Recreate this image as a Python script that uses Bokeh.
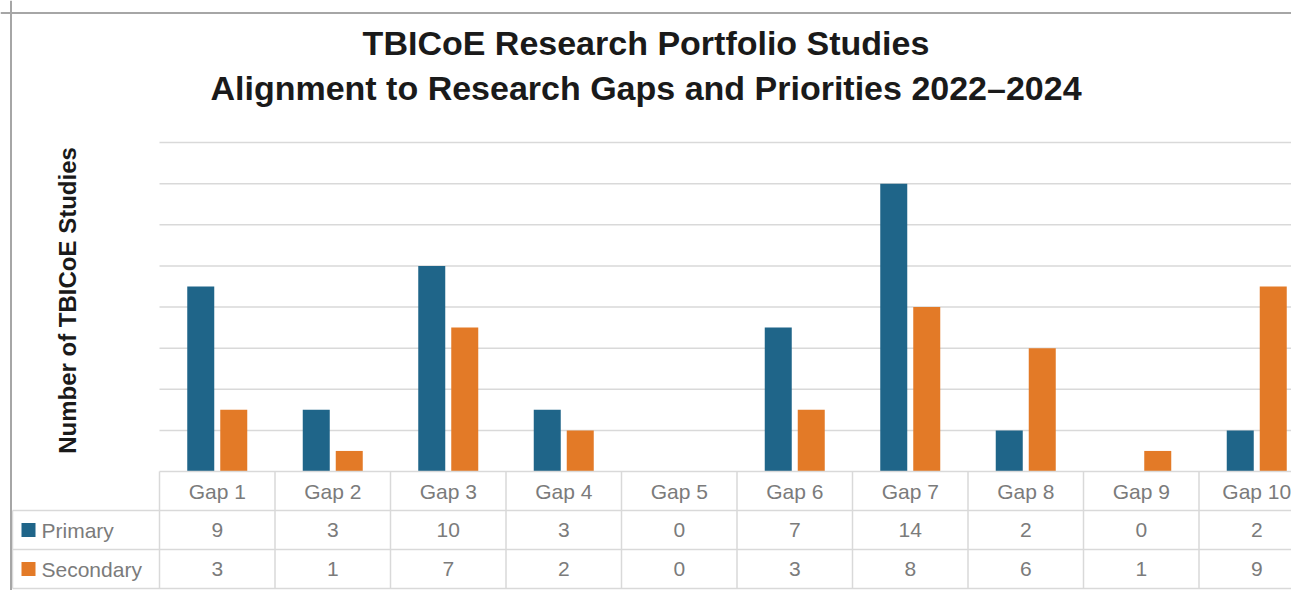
import math
from bokeh.plotting import figure
from bokeh.models import Range1d, Span
from bokeh.core.properties import value
from bokeh.embed import file_html
from bokeh.resources import INLINE

# ---- data ----
categories = ["Gap 1", "Gap 2", "Gap 3", "Gap 4", "Gap 5",
              "Gap 6", "Gap 7", "Gap 8", "Gap 9", "Gap 10"]
primary = [9, 3, 10, 3, 0, 7, 14, 2, 0, 2]
secondary = [3, 1, 7, 2, 0, 3, 8, 6, 1, 9]
series_names = ["Primary", "Secondary"]
grid_ticks = [2, 4, 6, 8, 10, 12, 14, 16]
title_lines = ["TBICoE Research Portfolio Studies",
               "Alignment to Research Gaps and Priorities 2022\u20132024"]
y_title = "Number of TBICoE Studies"

# ---- layout helpers (page pixels -> data) ----
W, H = 1291, 590
OX, OY = 0, 0
X0, XS = 216.75, 115.5        # page x of category 0 centre, px per category
Y0, YS = 471.0, 20.56         # page y of value 0, px per unit

def px_x(px):
    return (px - X0) / XS

def px_y(py):
    return (Y0 - py) / YS

FONT = value("Liberation Sans")
BLUE = "#1f6589"
ORANGE = "#e37a27"
GRID = "#d9d9d9"
TXT = "#7b7b7b"

p = figure(width=W, height=H, output_backend="svg", toolbar_location=None,
           x_range=Range1d(px_x(OX), px_x(OX + W)),
           y_range=Range1d(px_y(OY + H), px_y(OY)),
           min_border=0, min_border_left=0, min_border_right=0,
           min_border_top=0, min_border_bottom=0)
p.axis.visible = False
p.grid.visible = False
p.outline_line_color = None
p.background_fill_color = "white"
p.border_fill_color = "white"

n = len(categories)
idx = list(range(n))
x_end = px_x(OX + W)
x_left_col = px_x(12)

# gridlines
p.segment(x0=[-0.5] * len(grid_ticks), x1=[x_end] * len(grid_ticks),
          y0=grid_ticks, y1=grid_ticks, line_color=GRID, line_width=1.5)

# bars
off = 16.5 / XS
bw = 27.0 / XS
p.vbar(x=[i - off for i in idx], top=primary, width=bw, bottom=0,
       fill_color=BLUE, line_color=None)
p.vbar(x=[i + off for i in idx], top=secondary, width=bw, bottom=0,
       fill_color=ORANGE, line_color=None)

# ---- data table ----
row_h = 39.0 / YS
r0_top = 0.0
r1_top = -row_h
r2_top = -2 * row_h
r_bot = -3 * row_h

p.segment(x0=[-0.5, x_left_col, x_left_col, x_left_col],
          x1=[x_end] * 4,
          y0=[r0_top, r1_top, r2_top, r_bot],
          y1=[r0_top, r1_top, r2_top, r_bot],
          line_color=GRID, line_width=1.5)
vx = [-0.5 + k for k in range(n + 1)]
p.segment(x0=vx, x1=vx, y0=[r0_top] * len(vx), y1=[r_bot] * len(vx),
          line_color=GRID, line_width=1.5)
p.segment(x0=[x_left_col], x1=[x_left_col], y0=[r1_top], y1=[r_bot],
          line_color=GRID, line_width=1.5)

TS = "21px"
p.text(x=idx, y=[r0_top - row_h / 2] * n, text=categories,
       text_font=FONT, text_font_size=TS, text_color=TXT,
       text_align="center", text_baseline="middle")
p.text(x=idx, y=[r1_top - row_h / 2] * n, text=[str(v) for v in primary],
       text_font=FONT, text_font_size=TS, text_color=TXT,
       text_align="center", text_baseline="middle")
p.text(x=idx, y=[r2_top - row_h / 2] * n, text=[str(v) for v in secondary],
       text_font=FONT, text_font_size=TS, text_color=TXT,
       text_align="center", text_baseline="middle")
row_mid = [r1_top - row_h / 2, r2_top - row_h / 2]
p.rect(x=[px_x(28)] * 2, y=row_mid, width=14, height=14,
       width_units="screen", height_units="screen",
       fill_color=[BLUE, ORANGE], line_color=None)
p.text(x=[px_x(41)] * 2, y=row_mid, text=series_names,
       text_font=FONT, text_font_size=TS, text_color=TXT,
       text_align="left", text_baseline="middle")

# ---- titles ----
cx = px_x(645.5)
p.text(x=[cx, cx], y=[px_y(42), px_y(87)], text=title_lines,
       text_font=FONT, text_font_size="34px", text_font_style="bold",
       text_color="#1a1a1a", text_align="center", text_baseline="middle")
p.text(x=[px_x(67)], y=[px_y(300)], text=[y_title], angle=math.pi / 2,
       text_font=FONT, text_font_size="24px", text_font_style="bold",
       text_color="#1a1a1a", text_align="center", text_baseline="middle")

# chart border (top and left)
p.add_layout(Span(location=px_y(12.5), dimension="width",
                  line_color="#a6a6a6", line_width=2))
p.add_layout(Span(location=px_x(10.5), dimension="height",
                  line_color="#a6a6a6", line_width=2))

open("out.html", "w").write(file_html(p, INLINE))
